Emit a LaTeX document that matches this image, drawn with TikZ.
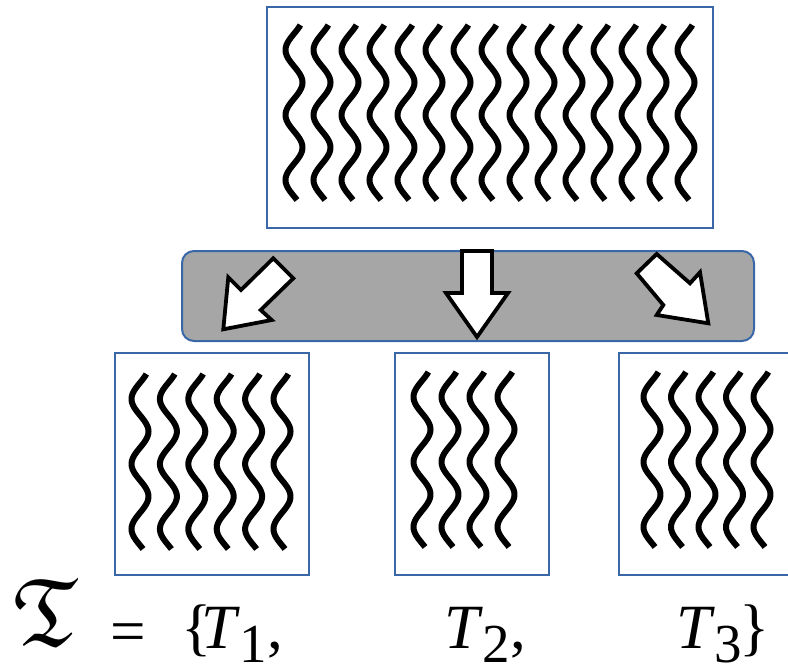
\documentclass[tikz,border=0pt]{standalone}
\usepackage{fontspec}
\setmainfont{Liberation Serif}
\font\myfrak=eufm10 at 96pt
\definecolor{boxblue}{RGB}{58,103,168}
\definecolor{bargray}{RGB}{166,166,166}
\newcommand\subnum[1]{\raisebox{-14pt}[0pt][0pt]{\fontsize{55}{55}\selectfont #1}}
\newcommand\nodepth[1]{\raisebox{0pt}[\height][0pt]{#1}}
\begin{document}
\begin{tikzpicture}[x=1pt,y=-1pt,
  panel/.style={draw=boxblue, line width=2pt, fill=white, inner sep=0pt, outer sep=0pt, anchor=north west},
  openpanel/.style={fill=white, inner sep=0pt, outer sep=0pt, anchor=north west},
  edge/.style={draw=boxblue, line width=2pt},
  wavy/.style={line width=6pt, black},
  blockarrow/.style={draw=black, line width=3.8pt, fill=white, line join=miter},
  bar/.style={draw=boxblue, line width=2pt, fill=bargray, rounded corners=12pt, inner sep=0pt, anchor=north west},
  lbl/.style={anchor=base west, inner sep=0pt, font=\fontsize{63}{63}\selectfont}]
\useasboundingbox (0,0) rectangle (788,664);

% panels
\node[panel, minimum width=446pt, minimum height=221pt] (top) at (267,7) {};
\node[panel, minimum width=194pt, minimum height=222pt] (p1) at (115,353) {};
\node[panel, minimum width=154pt, minimum height=222pt] (p2) at (395,353) {};
\node[openpanel, minimum width=169pt, minimum height=222pt] (p3) at (619,353) {};
\draw[edge] (p3.north east) -- (p3.north west) -- (p3.south west) -- (p3.south east);

% waves
\foreach \k in {0,...,14}
  \draw[wavy] plot[domain=0:175, samples=80, smooth] ({294+28*\k - 8.5*cos(5.5385*(\x-25))}, {25+\x});
\foreach \k in {0,...,5}
  \draw[wavy] plot[domain=0:175, samples=80, smooth] ({140+28.4*\k - 8.5*cos(5.5385*(\x-25))}, {374+\x});
\foreach \k in {0,...,3}
  \draw[wavy] plot[domain=0:175, samples=80, smooth] ({422+28*\k - 8.5*cos(5.5385*(\x-25))}, {372+\x});
\foreach \k in {0,...,4}
  \draw[wavy] plot[domain=0:175, samples=80, smooth] ({652+27.5*\k - 8.5*cos(5.5385*(\x-25))}, {372+\x});

% split bar
\node[bar, minimum width=572pt, minimum height=90pt] (split) at (181,250) {};

% block arrows
\draw[blockarrow] (223.3,329.3) -- (228.3,277.3) -- (241,290) -- (273.3,258.3) -- (293.3,278.3) -- (260.7,310) -- (271.7,320) -- cycle;
\draw[blockarrow] (462,251) -- (492,251) -- (492,293) -- (508,293) -- (477,337) -- (446,293) -- (462,293) -- cycle;
\draw[blockarrow] (656.7,254) -- (690,283.3) -- (700,272.3) -- (708.3,323.3) -- (656.7,315) -- (663.3,305) -- (636.7,273.3) -- cycle;

% formula
\node[anchor=base west, inner sep=0pt] (calT) at (13,645) {\nodepth{\myfrak T}};
\node[lbl] (eq) at (110,652) {\nodepth{=}};
\node[lbl] (lb) at (181,648) {\nodepth{\{}};
\node[lbl] (t1) at (201,648) {\nodepth{\textit{T}\subnum{1},}};
\node[lbl] (t2) at (444,648) {\nodepth{\textit{T}\subnum{2},}};
\node[lbl] (t3) at (676,648) {\nodepth{\textit{T}\subnum{3}\kern-3pt\}}};
\end{tikzpicture}
\end{document}
